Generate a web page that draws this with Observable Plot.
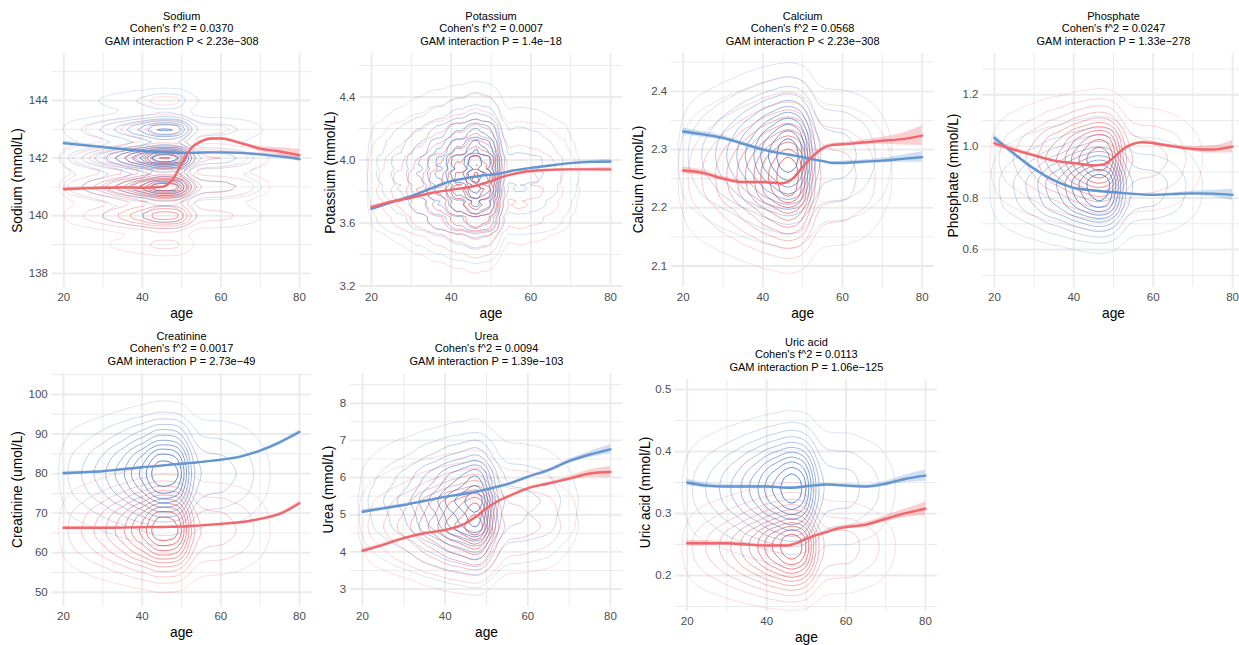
<!DOCTYPE html>
<html>
<head>
<meta charset="utf-8">
<script src="https://cdn.jsdelivr.net/npm/d3@7"></script>
<script src="https://cdn.jsdelivr.net/npm/@observablehq/plot@0.6"></script>
<style>
  body { margin: 0; background: #fff; }
  #root { position: relative; width: 1239px; height: 645px; overflow: hidden; background: #fff; }
</style>
</head>
<body>
<div id="root"></div>
<script>
// ---------------- DATA ----------------
const panelNames = ["Sodium", "Potassium", "Calcium", "Phosphate", "Creatinine", "Urea", "Uric acid"];
const cohenF2 = ["Cohen's f^2 = 0.0370", "Cohen's f^2 = 0.0007", "Cohen's f^2 = 0.0568", "Cohen's f^2 = 0.0247",
                 "Cohen's f^2 = 0.0017", "Cohen's f^2 = 0.0094", "Cohen's f^2 = 0.0113"];
const gamP = ["GAM interaction P < 2.23e\u2212308", "GAM interaction P = 1.4e\u221218", "GAM interaction P < 2.23e\u2212308",
              "GAM interaction P = 1.33e\u2212278", "GAM interaction P = 2.73e\u221249", "GAM interaction P = 1.39e\u2212103",
              "GAM interaction P = 1.06e\u2212125"];
const yLabels = ["Sodium (mmol/L)", "Potassium (mmol/L)", "Calcium (mmol/L)", "Phosphate (mmol/L)",
                 "Creatinine (umol/L)", "Urea (mmol/L)", "Uric acid (mmol/L)"];
const xLabel = "age";
const xTicks = [20, 40, 60, 80];
const xMinor = [30, 50, 70];

// ages at which the fitted GAM curves were read
const fitAges = [20, 25, 30, 35, 40, 45, 47.5, 50, 52.5, 55, 57.5, 60, 65, 70, 75, 80];
// age distribution behind the 2D density contours
const densityAges = [20, 22.5, 25, 27.5, 30, 32.5, 35, 37.5, 40, 42.5, 45, 47.5, 50, 52.5, 55, 57.5, 60, 62.5, 65, 67.5, 70, 72.5, 75];
const densityAgeWeights = [2, 2.6, 3.3, 4.1, 5, 6, 7.2, 8.5, 10, 11.5, 12.8, 13.5, 12.5, 4.2, 4, 3.9, 3.8, 3.5, 3, 2.4, 1.7, 1.0, 0.5];

// Sodium
const sodiumTicks = [138, 140, 142, 144];
const sodiumMinor = [139, 141, 143, 145];
const sodiumMaleFit = [142.52, 142.45, 142.38, 142.31, 142.25, 142.21, 142.19, 142.18, 142.18, 142.19, 142.2, 142.2, 142.18, 142.13, 142.06, 141.97];
const sodiumFemaleFit = [140.92, 140.95, 140.97, 140.98, 140.97, 141.0, 141.22, 141.8, 142.35, 142.58, 142.68, 142.68, 142.52, 142.33, 142.23, 142.1];
const sodiumMaleBand = [0.07, 0.055, 0.045, 0.038, 0.033, 0.03, 0.03, 0.03, 0.03, 0.03, 0.03, 0.032, 0.036, 0.045, 0.06, 0.08];
const sodiumFemaleBand = [0.07, 0.05, 0.04, 0.035, 0.033, 0.03, 0.03, 0.032, 0.035, 0.038, 0.04, 0.042, 0.05, 0.075, 0.13, 0.21];
const sodiumLevels = [138, 139, 140, 141, 142, 143, 144, 145];
const sodiumMaleDensity = [0.3, 1, 4, 12, 18, 12, 4, 1];
const sodiumFemaleDensity = [1, 3, 11, 17, 14, 5, 1.5, 0.4];

// Potassium
const potassiumTicks = [3.2, 3.6, 4.0, 4.4];
const potassiumMinor = [3.4, 3.8, 4.2, 4.6];
const potassiumMaleFit = [3.69, 3.73, 3.77, 3.82, 3.865, 3.89, 3.9, 3.907, 3.915, 3.93, 3.94, 3.95, 3.965, 3.98, 3.988, 3.99];
const potassiumFemaleFit = [3.7, 3.735, 3.76, 3.79, 3.81, 3.83, 3.845, 3.865, 3.89, 3.907, 3.92, 3.93, 3.937, 3.94, 3.94, 3.94];
const potassiumMaleBand = [0.01, 0.008, 0.006, 0.005, 0.004, 0.004, 0.004, 0.004, 0.004, 0.004, 0.004, 0.004, 0.005, 0.006, 0.009, 0.014];
const potassiumFemaleBand = [0.01, 0.008, 0.006, 0.005, 0.004, 0.004, 0.004, 0.004, 0.004, 0.004, 0.004, 0.005, 0.006, 0.007, 0.009, 0.013];
const potassiumLevels = [3.2, 3.3, 3.4, 3.5, 3.6, 3.7, 3.8, 3.9, 4.0, 4.1, 4.2, 4.3, 4.4, 4.5, 4.6];
const potassiumMaleDensity = [0.3, 0.8, 2, 4, 7, 10, 13, 15, 15, 12, 9, 5, 3, 1.2, 0.5];
const potassiumFemaleDensity = [0.5, 1.5, 3, 6, 10, 14, 16, 15, 13, 9, 6, 3, 1.5, 0.6, 0.2];

// Calcium
const calciumTicks = [2.1, 2.2, 2.3, 2.4];
const calciumMinor = [2.15, 2.25, 2.35, 2.45];
const calciumMaleFit = [2.331, 2.326, 2.32, 2.31, 2.3, 2.293, 2.29, 2.287, 2.283, 2.28, 2.277, 2.277, 2.279, 2.281, 2.284, 2.287];
const calciumFemaleFit = [2.264, 2.26, 2.25, 2.244, 2.244, 2.242, 2.25, 2.27, 2.288, 2.302, 2.308, 2.309, 2.312, 2.315, 2.318, 2.324];
const calciumMaleBand = [0.006, 0.005, 0.004, 0.003, 0.003, 0.002, 0.002, 0.002, 0.002, 0.002, 0.002, 0.003, 0.003, 0.004, 0.006, 0.009];
const calciumFemaleBand = [0.006, 0.005, 0.004, 0.003, 0.003, 0.002, 0.002, 0.002, 0.002, 0.003, 0.003, 0.003, 0.004, 0.006, 0.01, 0.017];
const calciumLevels = [2.06, 2.08, 2.1, 2.12, 2.14, 2.16, 2.18, 2.2, 2.22, 2.24, 2.26, 2.28, 2.3, 2.32, 2.34, 2.36, 2.38, 2.4, 2.42, 2.44, 2.46];
const calciumMaleDensity = [0.05, 0.1, 0.3, 0.5, 1.0, 1.8, 2.9, 4.4, 6.1, 7.7, 9.1, 9.9, 9.9, 9.1, 7.7, 6.1, 4.4, 2.9, 1.8, 1.0, 0.5];
const calciumFemaleDensity = [0.3, 0.6, 1.1, 1.9, 3, 4.4, 6, 7.6, 8.9, 9.8, 10, 9.5, 8.4, 6.9, 5.3, 3.8, 2.5, 1.5, 0.9, 0.4, 0.2];

// Phosphate
const phosphateTicks = [0.6, 0.8, 1.0, 1.2];
const phosphateMinor = [0.5, 0.7, 0.9, 1.1, 1.3];
const phosphateMaleFit = [1.033, 0.971, 0.913, 0.868, 0.839, 0.829, 0.825, 0.822, 0.819, 0.816, 0.813, 0.812, 0.815, 0.818, 0.817, 0.812];
const phosphateFemaleFit = [1.012, 0.987, 0.965, 0.945, 0.935, 0.926, 0.93, 0.956, 0.99, 1.01, 1.016, 1.012, 1.0, 0.99, 0.988, 0.999];
const phosphateMaleBand = [0.012, 0.008, 0.006, 0.005, 0.004, 0.003, 0.003, 0.003, 0.003, 0.003, 0.004, 0.004, 0.005, 0.008, 0.013, 0.022];
const phosphateFemaleBand = [0.012, 0.008, 0.006, 0.005, 0.004, 0.003, 0.003, 0.003, 0.004, 0.004, 0.004, 0.005, 0.006, 0.009, 0.014, 0.024];
const phosphateLevels = [0.48, 0.52, 0.56, 0.6, 0.64, 0.68, 0.72, 0.76, 0.8, 0.84, 0.88, 0.92, 0.96, 1.0, 1.04, 1.08, 1.12, 1.16, 1.2, 1.24, 1.28, 1.32];
const phosphateMaleDensity = [0.05, 0.15, 0.4, 0.9, 1.9, 3.5, 5.5, 7.7, 9.4, 10, 9.4, 7.7, 5.6, 3.8, 2.3, 1.3, 0.7, 0.35, 0.15, 0.06, 0.03, 0.01];
const phosphateFemaleDensity = [0.01, 0.02, 0.05, 0.14, 0.36, 0.8, 1.6, 2.9, 4.6, 6.6, 8.4, 9.7, 10, 9.2, 7.5, 5.6, 3.7, 2.2, 1.1, 0.5, 0.2, 0.1];

// Creatinine
const creatinineTicks = [50, 60, 70, 80, 90, 100];
const creatinineMinor = [55, 65, 75, 85, 95, 105];
const creatinineMaleFit = [80.1, 80.35, 80.6, 81.1, 81.6, 82.0, 82.3, 82.5, 82.7, 82.95, 83.2, 83.5, 84.3, 85.8, 87.9, 90.5];
const creatinineFemaleFit = [66.3, 66.3, 66.3, 66.35, 66.45, 66.5, 66.55, 66.6, 66.75, 66.9, 67.1, 67.3, 67.7, 68.55, 69.8, 72.5];
const creatinineMaleBand = [0.4, 0.3, 0.25, 0.2, 0.15, 0.12, 0.12, 0.12, 0.12, 0.13, 0.14, 0.15, 0.2, 0.25, 0.35, 0.55];
const creatinineFemaleBand = [0.35, 0.28, 0.22, 0.18, 0.14, 0.11, 0.11, 0.11, 0.12, 0.12, 0.13, 0.15, 0.2, 0.25, 0.35, 0.55];
const creatinineLevels = [47.5, 50, 52.5, 55, 57.5, 60, 62.5, 65, 67.5, 70, 72.5, 75, 77.5, 80, 82.5, 85, 87.5, 90, 92.5, 95, 97.5, 100, 102.5];
const creatinineMaleDensity = [0, 0.01, 0.03, 0.07, 0.19, 0.44, 0.91, 1.7, 2.96, 4.6, 6.4, 8.2, 9.5, 10, 9.5, 8.2, 6.4, 4.6, 3.0, 1.7, 0.9, 0.44, 0.19];
const creatinineFemaleDensity = [0.3, 0.7, 1.5, 2.9, 4.8, 6.9, 8.8, 9.9, 9.8, 8.5, 6.5, 4.4, 2.6, 1.4, 0.6, 0.25, 0.1, 0.03, 0.01, 0, 0, 0, 0];

// Urea
const ureaTicks = [3, 4, 5, 6, 7, 8];
const ureaMinor = [3.5, 4.5, 5.5, 6.5, 7.5, 8.5];
const ureaMaleFit = [5.08, 5.17, 5.26, 5.37, 5.48, 5.57, 5.62, 5.68, 5.75, 5.82, 5.92, 6.02, 6.2, 6.44, 6.62, 6.76];
const ureaFemaleFit = [4.03, 4.19, 4.37, 4.5, 4.59, 4.77, 4.95, 5.17, 5.35, 5.48, 5.6, 5.71, 5.84, 5.97, 6.11, 6.15];
const ureaMaleBand = [0.06, 0.045, 0.035, 0.03, 0.025, 0.02, 0.02, 0.02, 0.02, 0.022, 0.025, 0.03, 0.035, 0.05, 0.08, 0.12];
const ureaFemaleBand = [0.06, 0.045, 0.035, 0.03, 0.025, 0.02, 0.02, 0.02, 0.022, 0.025, 0.028, 0.03, 0.04, 0.06, 0.1, 0.15];
const ureaLevels = [2.5, 2.75, 3, 3.25, 3.5, 3.75, 4, 4.25, 4.5, 4.75, 5, 5.25, 5.5, 5.75, 6, 6.25, 6.5, 6.75, 7, 7.25, 7.5, 7.75, 8, 8.25, 8.5, 8.75];
const ureaMaleDensity = [0.2, 0.4, 0.7, 1.2, 2.0, 3.0, 4.3, 5.8, 7.3, 8.6, 9.6, 10, 9.8, 9.0, 7.8, 6.4, 4.9, 3.5, 2.4, 1.5, 0.9, 0.5, 0.3, 0.15, 0.08, 0.03];
const ureaFemaleDensity = [0.3, 0.55, 1.1, 1.9, 3.1, 4.6, 6.4, 8.1, 9.4, 10, 9.7, 8.7, 7.1, 5.3, 3.7, 2.3, 1.4, 0.7, 0.35, 0.15, 0.06, 0.02, 0.01, 0, 0, 0];

// Uric acid
const uricTicks = [0.2, 0.3, 0.4, 0.5];
const uricMinor = [0.15, 0.25, 0.35, 0.45];
const uricMaleFit = [0.35, 0.345, 0.3435, 0.3435, 0.3435, 0.3415, 0.342, 0.344, 0.3455, 0.3468, 0.346, 0.345, 0.3435, 0.348, 0.356, 0.361];
const uricFemaleFit = [0.252, 0.252, 0.252, 0.25, 0.2484, 0.2484, 0.252, 0.259, 0.265, 0.27, 0.275, 0.278, 0.282, 0.2915, 0.3005, 0.3076];
const uricMaleBand = [0.005, 0.004, 0.003, 0.003, 0.002, 0.002, 0.002, 0.002, 0.002, 0.002, 0.002, 0.003, 0.003, 0.004, 0.006, 0.009];
const uricFemaleBand = [0.005, 0.004, 0.003, 0.003, 0.002, 0.002, 0.002, 0.002, 0.002, 0.002, 0.003, 0.003, 0.004, 0.005, 0.007, 0.011];
const uricLevels = [0.15, 0.17, 0.19, 0.21, 0.23, 0.25, 0.27, 0.29, 0.31, 0.33, 0.35, 0.37, 0.39, 0.41, 0.43, 0.45, 0.47, 0.49, 0.51];
const uricMaleDensity = [0.03, 0.08, 0.24, 0.6, 1.35, 2.6, 4.4, 6.6, 8.6, 9.8, 9.8, 8.6, 6.6, 4.4, 2.6, 1.35, 0.6, 0.24, 0.08];
const uricFemaleDensity = [1.1, 2.5, 4.7, 7.4, 9.5, 9.9, 8.6, 6.1, 3.5, 1.7, 0.7, 0.2, 0.06, 0.02, 0.01, 0, 0, 0, 0];

// ---------------- TABLES BUILT FROM THE DATA ----------------
const panels = [
  {ticks: sodiumTicks, minor: sodiumMinor, fitM: sodiumMaleFit, fitF: sodiumFemaleFit, bandM: sodiumMaleBand, bandF: sodiumFemaleBand, levels: sodiumLevels, denM: sodiumMaleDensity, denF: sodiumFemaleDensity},
  {ticks: potassiumTicks, minor: potassiumMinor, fitM: potassiumMaleFit, fitF: potassiumFemaleFit, bandM: potassiumMaleBand, bandF: potassiumFemaleBand, levels: potassiumLevels, denM: potassiumMaleDensity, denF: potassiumFemaleDensity},
  {ticks: calciumTicks, minor: calciumMinor, fitM: calciumMaleFit, fitF: calciumFemaleFit, bandM: calciumMaleBand, bandF: calciumFemaleBand, levels: calciumLevels, denM: calciumMaleDensity, denF: calciumFemaleDensity},
  {ticks: phosphateTicks, minor: phosphateMinor, fitM: phosphateMaleFit, fitF: phosphateFemaleFit, bandM: phosphateMaleBand, bandF: phosphateFemaleBand, levels: phosphateLevels, denM: phosphateMaleDensity, denF: phosphateFemaleDensity},
  {ticks: creatinineTicks, minor: creatinineMinor, fitM: creatinineMaleFit, fitF: creatinineFemaleFit, bandM: creatinineMaleBand, bandF: creatinineFemaleBand, levels: creatinineLevels, denM: creatinineMaleDensity, denF: creatinineFemaleDensity},
  {ticks: ureaTicks, minor: ureaMinor, fitM: ureaMaleFit, fitF: ureaFemaleFit, bandM: ureaMaleBand, bandF: ureaFemaleBand, levels: ureaLevels, denM: ureaMaleDensity, denF: ureaFemaleDensity},
  {ticks: uricTicks, minor: uricMinor, fitM: uricMaleFit, fitF: uricFemaleFit, bandM: uricMaleBand, bandF: uricFemaleBand, levels: uricLevels, denM: uricMaleDensity, denF: uricFemaleDensity}
];

// ---------------- SCALES / LAYOUT / STYLE ----------------
const scaleSettings = [
  {domain: [137.51, 145.63], fmt: "d", bw: 6},
  {domain: [3.19, 4.676], fmt: ".1f", bw: 5},
  {domain: [2.063, 2.465], fmt: ".1f", bw: 6},
  {domain: [0.453, 1.36], fmt: ".1f", bw: 6},
  {domain: [46.4, 105.3], fmt: "d", bw: 6},
  {domain: [2.53, 8.8], fmt: "d", bw: 6},
  {domain: [0.142, 0.516], fmt: ".1f", bw: 6}
];
const layout = [
  {left: 0,   top: 0,   w: 320, h: 320, fl: 51.5,  fr: 310.8,  ft: 53,  fb: 287, ytx: 17,  yty: 180},
  {left: 320, top: 0,   w: 310, h: 320, fl: 359,   fr: 622,    ft: 53,  fb: 287, ytx: 330, yty: 172},
  {left: 630, top: 0,   w: 310, h: 320, fl: 670.7, fr: 933.6,  ft: 53,  fb: 287, ytx: 638, yty: 179},
  {left: 940, top: 0,   w: 310, h: 320, fl: 982,   fr: 1244,   ft: 53,  fb: 287, ytx: 953, yty: 175},
  {left: 0,   top: 320, w: 320, h: 325, fl: 51.2,  fr: 310.8,  ft: 373, fb: 606, ytx: 17,  yty: 489},
  {left: 320, top: 320, w: 310, h: 325, fl: 349.6, fr: 622.4,  ft: 373, fb: 606, ytx: 328, yty: 489},
  {left: 630, top: 320, w: 310, h: 325, fl: 674.8, fr: 936.9,  ft: 379, fb: 611, ytx: 645, yty: 492}
];
const FONT = '"Liberation Sans", Arial, Helvetica, sans-serif';
const FEMALE = "#f0676c";
const MALE = "#6396d0";
const GRID = "#ebebeb";
const femaleRamp = t => `rgba(234,80,90,${(0.14 + 0.82 * t).toFixed(3)})`;
const maleRamp = t => `rgba(66,112,194,${(0.14 + 0.82 * t).toFixed(3)})`;
const THRESHOLDS = 12;

const root = document.getElementById("root");

function densityPoints(levels, weights) {
  const pts = [];
  densityAges.forEach((a, i) => {
    levels.forEach((v, j) => {
      const w = densityAgeWeights[i] * weights[j];
      if (w > 0) pts.push({age: a, value: v, w});
    });
  });
  return pts;
}
function fitRows(fit, band) {
  return fitAges.map((a, i) => ({age: a, v: fit[i], lo: fit[i] - band[i], hi: fit[i] + band[i]}));
}
function common(g, s) {
  return {
    width: g.w, height: g.h,
    marginLeft: g.fl - g.left, marginRight: g.left + g.w - g.fr,
    marginTop: g.ft - g.top, marginBottom: g.top + g.h - g.fb,
    x: {domain: [17, 83], axis: null},
    y: {domain: s.domain, axis: null},
    style: {background: "transparent", fontFamily: FONT, fontSize: "11.5px", color: "#4d4d4d", overflow: "visible"}
  };
}
function addLayer(g, node) {
  const d = document.createElement("div");
  d.style.cssText = `position:absolute;left:${g.left}px;top:${g.top}px;width:${g.w}px;height:${g.h}px;`;
  d.appendChild(node);
  root.appendChild(d);
}
const textBase = {text: d => d, textAnchor: "middle", lineAnchor: "middle", fill: "#000"};

panels.forEach((p, i) => {
  const g = layout[i], s = scaleSettings[i];
  const fmt = d3.format(s.fmt);

  // base layer: grid, female density, axes and titles
  addLayer(g, Plot.plot({
    ...common(g, s),
    color: {type: "linear", interpolate: femaleRamp},
    marks: [
      Plot.ruleX(xMinor, {stroke: GRID, strokeWidth: 1}),
      Plot.ruleY(p.minor, {stroke: GRID, strokeWidth: 1}),
      Plot.ruleX(xTicks, {stroke: GRID, strokeWidth: 1.9}),
      Plot.ruleY(p.ticks, {stroke: GRID, strokeWidth: 1.9}),
      Plot.density(densityPoints(p.levels, p.denF), {
        x: "age", y: "value", weight: "w", bandwidth: s.bw, thresholds: THRESHOLDS,
        stroke: "density", strokeWidth: 0.85, clip: true
      }),
      Plot.axisX({ticks: xTicks, tickSize: 0, tickPadding: 5, label: null, fill: "#4d4d4d", fontSize: 11.5}),
      Plot.axisY({ticks: p.ticks, tickSize: 0, tickPadding: 4, tickFormat: fmt, label: null, fill: "#4d4d4d", fontSize: 11.5}),
      Plot.text([panelNames[i]], {...textBase, frameAnchor: "top", dy: -37.5, fontSize: 11}),
      Plot.text([cohenF2[i]], {...textBase, frameAnchor: "top", dy: -25, fontSize: 11}),
      Plot.text([gamP[i]], {...textBase, frameAnchor: "top", dy: -12.5, fontSize: 11}),
      Plot.text([yLabels[i]], {...textBase, frameAnchor: "left", dx: g.ytx - g.fl, dy: g.yty - (g.ft + g.fb) / 2, rotate: -90, fontSize: 13.75}),
      Plot.text([xLabel], {...textBase, frameAnchor: "bottom", dy: 26, fontSize: 13.75})
    ]
  }));

  // male density layer
  addLayer(g, Plot.plot({
    ...common(g, s),
    color: {type: "linear", interpolate: maleRamp},
    marks: [
      Plot.density(densityPoints(p.levels, p.denM), {
        x: "age", y: "value", weight: "w", bandwidth: s.bw, thresholds: THRESHOLDS,
        stroke: "density", strokeWidth: 0.85, clip: true
      })
    ]
  }));

  // fitted curves with confidence bands
  const rowsM = fitRows(p.fitM, p.bandM);
  const rowsF = fitRows(p.fitF, p.bandF);
  addLayer(g, Plot.plot({
    ...common(g, s),
    marks: [
      Plot.areaY(rowsM, {x: "age", y1: "lo", y2: "hi", fill: MALE, fillOpacity: 0.3, curve: "monotone-x"}),
      Plot.areaY(rowsF, {x: "age", y1: "lo", y2: "hi", fill: FEMALE, fillOpacity: 0.3, curve: "monotone-x"}),
      Plot.line(rowsM, {x: "age", y: "v", stroke: MALE, strokeWidth: 2.4, curve: "monotone-x"}),
      Plot.line(rowsF, {x: "age", y: "v", stroke: FEMALE, strokeWidth: 2.4, curve: "monotone-x"})
    ]
  }));
});
</script>
</body>
</html>
